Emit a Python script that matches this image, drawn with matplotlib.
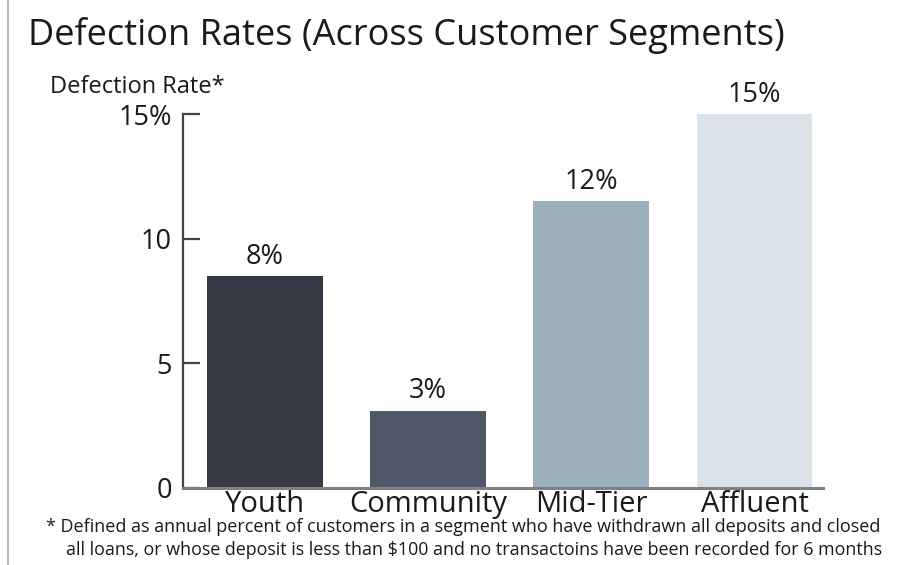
import matplotlib
matplotlib.use('Agg')
import matplotlib.pyplot as plt
from matplotlib.lines import Line2D

segments = ['Youth', 'Community', 'Mid-Tier', 'Affluent']
rates = [8.5, 3.1, 11.5, 15.0]
rate_labels = ['8%', '3%', '12%', '15%']
colors = ['#363a45', '#4f5868', '#9cb0bb', '#dce3ea']
yticks = [0, 5, 10, 15]
ytick_labels = ['0', '5', '10', '15%']

plt.rcParams['font.family'] = ['Open Sans', 'DejaVu Sans']
plt.rcParams['text.color'] = '#1a1a1a'

fig = plt.figure(figsize=(8.99, 5.65), dpi=100)
ax = fig.add_axes([0.2036, 0.1363, 0.9155 - 0.2036, 0.798 - 0.1363])

x = range(len(segments))
ax.bar(x, rates, width=0.71, color=colors)
for xi, r, lab in zip(x, rates, rate_labels):
    ax.text(xi, r + 0.22, lab, ha='center', va='bottom', fontsize=19.5,
            color='#1a1a1a', clip_on=False)

ax.set_xlim(-0.503, 3.42)
ax.set_ylim(0, 15)
ax.set_yticks(yticks)
ax.set_yticklabels(ytick_labels, fontsize=19.5, color='#1a1a1a')
ax.set_xticks(list(x))
ax.set_xticklabels(segments, fontsize=21, color='#1a1a1a')
ax.tick_params(axis='x', length=0, pad=1.5)
ax.tick_params(axis='y', direction='in', length=12, width=1.6, color='#444444', pad=8)

for s in ['top', 'right']:
    ax.spines[s].set_visible(False)
ax.spines['left'].set_color('#444444')
ax.spines['left'].set_linewidth(1.6)
ax.spines['bottom'].set_color('#808080')
ax.spines['bottom'].set_linewidth(2.2)

fig.text(28 / 899, 1 - 36 / 565, 'Defection Rates (Across Customer Segments)',
         fontsize=26, va='center', ha='left')
fig.text(50 / 899, 1 - 87 / 565, 'Defection Rate*', fontsize=17, va='center', ha='left')
fig.text(46 / 899, 1 - 527 / 565,
         '* Defined as annual percent of customers in a segment who have withdrawn all deposits and closed',
         fontsize=13, va='center', ha='left')
fig.text(66 / 899, 1 - 550 / 565,
         'all loans, or whose deposit is less than $100 and no transactoins have been recorded for 6 months',
         fontsize=12.9, va='center', ha='left')

fig.add_artist(Line2D([8 / 899, 8 / 899], [0, 1], color='#bbbbbb', linewidth=1.5))

fig.savefig('out.png', dpi=100)
